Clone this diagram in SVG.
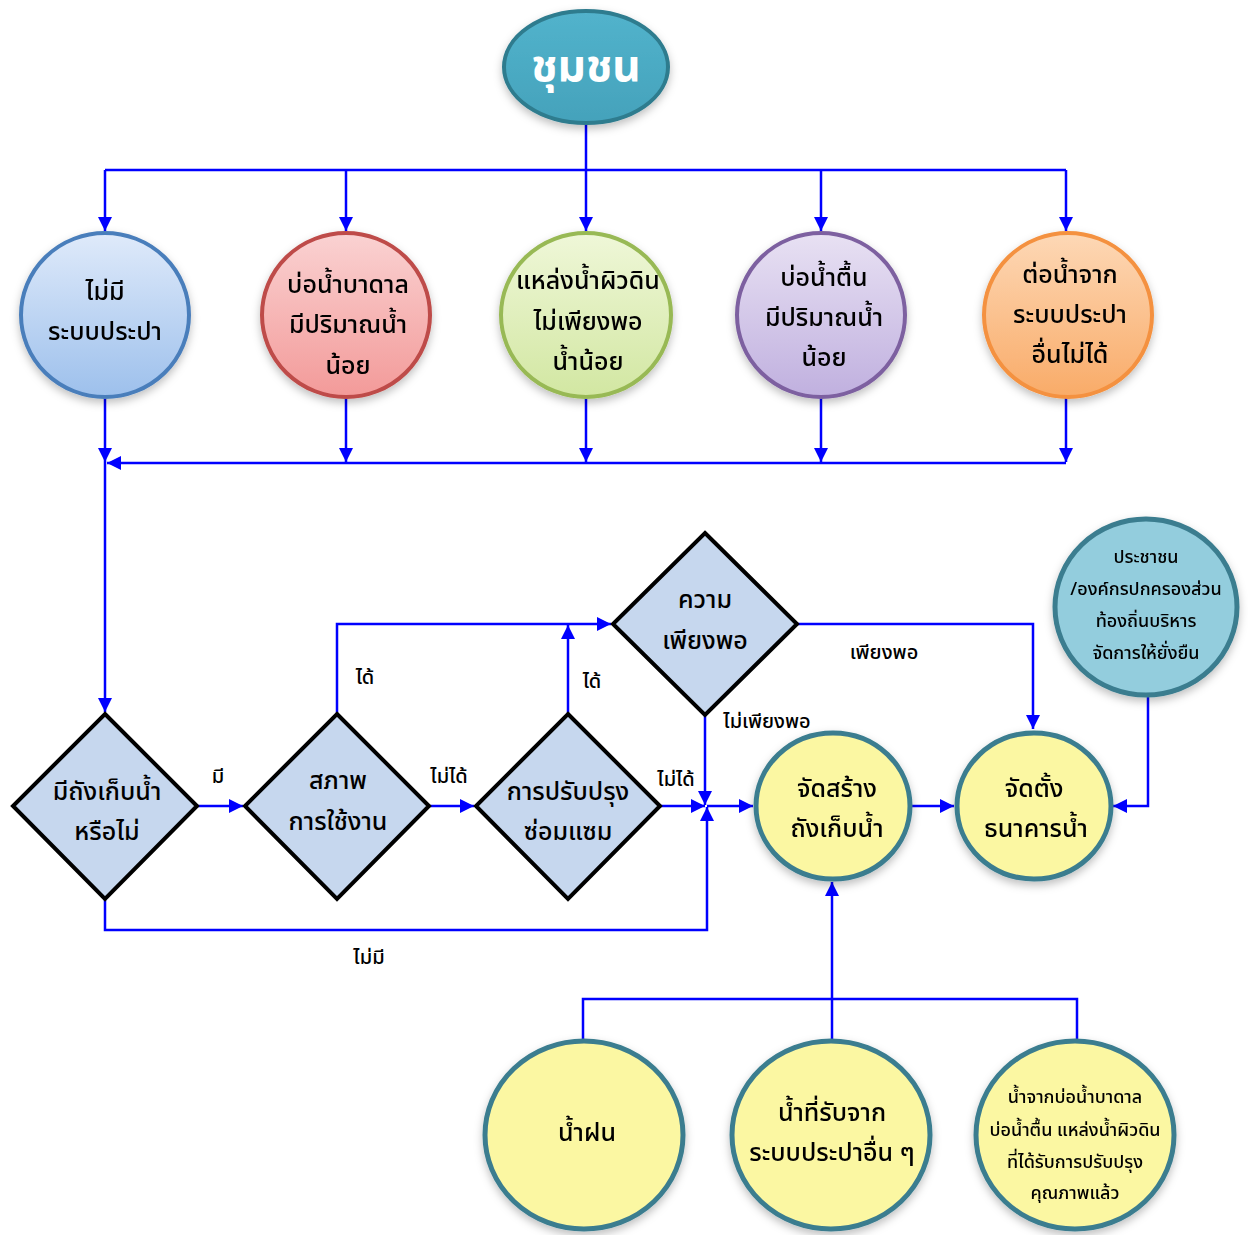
<svg xmlns="http://www.w3.org/2000/svg" width="1248" height="1235" viewBox="0 0 1248 1235">
  <defs>
    <style>
      .t { font-family: "Noto Sans Thai", "Noto Sans", "DejaVu Sans", sans-serif; fill: #000; text-anchor: middle; dominant-baseline: central; font-weight: 500; }
      .big { font-size: 25px; }
      .small { font-size: 18px; }
      .lbl { font-size: 20px; }
      .head { font-size: 44px; fill: #fff; font-weight: bold; }
      .conn { fill: none; stroke: #0000ff; stroke-width: 2.5; }
      .arr { marker-end: url(#ah); }
      .dia { fill: #c6d7ee; stroke: #000; stroke-width: 4; stroke-linejoin: miter; }
      .yel { fill: #fbf7a2; stroke: #3b7d8f; stroke-width: 5; }
    </style>
    <marker id="ah" viewBox="0 0 14 14" markerWidth="14" markerHeight="14" refX="14" refY="7" orient="auto" markerUnits="userSpaceOnUse">
      <path d="M0,0 L14,7 L0,14 Z" fill="#0000ff"/>
    </marker>
    <filter id="sh" x="-20%" y="-20%" width="140%" height="150%">
      <feDropShadow dx="0" dy="4" stdDeviation="4" flood-color="#000" flood-opacity="0.25"/>
    </filter>
    <linearGradient id="gTeal" x1="0" y1="0" x2="0" y2="1">
      <stop offset="0" stop-color="#52b3cc"/>
      <stop offset="1" stop-color="#44a2bb"/>
    </linearGradient>
    <linearGradient id="gBlue" x1="0" y1="0" x2="0" y2="1">
      <stop offset="0" stop-color="#dfeafa"/>
      <stop offset="1" stop-color="#9dc0ec"/>
    </linearGradient>
    <linearGradient id="gRed" x1="0" y1="0" x2="0" y2="1">
      <stop offset="0" stop-color="#fad2d2"/>
      <stop offset="1" stop-color="#f39a99"/>
    </linearGradient>
    <linearGradient id="gGreen" x1="0" y1="0" x2="0" y2="1">
      <stop offset="0" stop-color="#eff7d8"/>
      <stop offset="1" stop-color="#d2e7a2"/>
    </linearGradient>
    <linearGradient id="gPurple" x1="0" y1="0" x2="0" y2="1">
      <stop offset="0" stop-color="#e8e1f3"/>
      <stop offset="1" stop-color="#c0b0df"/>
    </linearGradient>
    <linearGradient id="gOrange" x1="0" y1="0" x2="0" y2="1">
      <stop offset="0" stop-color="#fdd8b6"/>
      <stop offset="1" stop-color="#f9ab68"/>
    </linearGradient>
  </defs>

  <rect width="1248" height="1235" fill="#fff"/>

  <!-- connectors -->
  <g id="connectors">
    <path class="conn" d="M586,124 V170"/>
    <path class="conn" d="M105,170 H1066"/>
    <path class="conn arr" d="M105,170 V231"/>
    <path class="conn arr" d="M346,170 V231"/>
    <path class="conn arr" d="M586,170 V231"/>
    <path class="conn arr" d="M821,170 V231"/>
    <path class="conn arr" d="M1066,170 V231"/>

    <path class="conn arr" d="M346,398 V462"/>
    <path class="conn arr" d="M586,398 V462"/>
    <path class="conn arr" d="M821,398 V462"/>
    <path class="conn arr" d="M1066,398 V462"/>
    <path class="conn arr" d="M1066,463 H107"/>
    <path class="conn arr" d="M105,398 V462"/>
    <path class="conn arr" d="M105,462 V712"/>

    <path class="conn arr" d="M198,806 H243"/>
    <path class="conn arr" d="M430,806 H474"/>
    <path class="conn arr" d="M661,806 H705"/>
    <path class="conn arr" d="M707,806 H753"/>
    <path class="conn arr" d="M705,716 V805"/>
    <path class="conn arr" d="M105,900 V930 H707 V807"/>
    <path class="conn arr" d="M337,713 V624 H611"/>
    <path class="conn arr" d="M568,713 V625"/>
    <path class="conn arr" d="M798,624 H1033 V729"/>
    <path class="conn arr" d="M911,806 H954"/>
    <path class="conn arr" d="M1148,697 V806 H1113"/>

    <path class="conn" d="M583,1040 V999 H1077 V1040"/>
    <path class="conn arr" d="M832,1040 V882"/>
  </g>

  <!-- connector labels -->
  <g id="labels">
    <text class="t lbl" x="218" y="777">มี</text>
    <text class="t lbl" x="449" y="777">ไม่ได้</text>
    <text class="t lbl" x="676" y="780">ไม่ได้</text>
    <text class="t lbl" x="365" y="678">ได้</text>
    <text class="t lbl" x="592" y="682">ได้</text>
    <text class="t lbl" x="767" y="722">ไม่เพียงพอ</text>
    <text class="t lbl" x="884" y="653">เพียงพอ</text>
    <text class="t lbl" x="369" y="958">ไม่มี</text>
  </g>

  <!-- community -->
  <g id="community">
    <ellipse cx="586" cy="67" rx="82" ry="56" fill="url(#gTeal)" stroke="#2f7b8e" stroke-width="4" filter="url(#sh)"/>
    <text class="t head" x="586" y="67">ชุมชน</text>
  </g>

  <!-- problem sources -->
  <g id="no-supply" filter="url(#sh)">
    <ellipse cx="105" cy="315" rx="84" ry="82" fill="url(#gBlue)" stroke="#4a7ebb" stroke-width="4"/>
    <text class="t big" x="105" y="292">ไม่มี</text>
    <text class="t big" x="105" y="332">ระบบประปา</text>
  </g>
  <g id="groundwater" filter="url(#sh)">
    <ellipse cx="346" cy="315" rx="84" ry="82" fill="url(#gRed)" stroke="#be4b48" stroke-width="4"/>
    <text class="t big" x="348" y="285">บ่อน้ำบาดาล</text>
    <text class="t big" x="348" y="325">มีปริมาณน้ำ</text>
    <text class="t big" x="348" y="366">น้อย</text>
  </g>
  <g id="surface-water" filter="url(#sh)">
    <ellipse cx="586" cy="315" rx="85" ry="82" fill="url(#gGreen)" stroke="#98b954" stroke-width="4"/>
    <text class="t big" x="588" y="281">แหล่งน้ำผิวดิน</text>
    <text class="t big" x="588" y="322">ไม่เพียงพอ</text>
    <text class="t big" x="588" y="362">น้ำน้อย</text>
  </g>
  <g id="shallow-well" filter="url(#sh)">
    <ellipse cx="821" cy="315" rx="84" ry="82" fill="url(#gPurple)" stroke="#7d60a0" stroke-width="4"/>
    <text class="t big" x="824" y="278">บ่อน้ำตื้น</text>
    <text class="t big" x="824" y="318">มีปริมาณน้ำ</text>
    <text class="t big" x="824" y="358">น้อย</text>
  </g>
  <g id="no-connection" filter="url(#sh)">
    <ellipse cx="1068" cy="315" rx="84" ry="82" fill="url(#gOrange)" stroke="#f4913f" stroke-width="4"/>
    <text class="t big" x="1070" y="275">ต่อน้ำจาก</text>
    <text class="t big" x="1070" y="315">ระบบประปา</text>
    <text class="t big" x="1070" y="355">อื่นไม่ได้</text>
  </g>

  <!-- decisions -->
  <g id="has-tank">
    <polygon class="dia" points="105,714 197,806 105,899 13,806"/>
    <text class="t big" x="107" y="792">มีถังเก็บน้ำ</text>
    <text class="t big" x="107" y="832">หรือไม่</text>
  </g>
  <g id="condition">
    <polygon class="dia" points="337,714 429,806 337,899 245,806"/>
    <text class="t big" x="338" y="781">สภาพ</text>
    <text class="t big" x="338" y="822">การใช้งาน</text>
  </g>
  <g id="repair">
    <polygon class="dia" points="568,714 660,806 568,899 476,806"/>
    <text class="t big" x="568" y="792">การปรับปรุง</text>
    <text class="t big" x="568" y="832">ซ่อมแซม</text>
  </g>
  <g id="sufficiency">
    <polygon class="dia" points="705,533 797,624 705,715 613,624"/>
    <text class="t big" x="705" y="600">ความ</text>
    <text class="t big" x="705" y="641">เพียงพอ</text>
  </g>

  <!-- actions -->
  <g id="build-tank" filter="url(#sh)">
    <ellipse class="yel" cx="833" cy="806" rx="77" ry="73"/>
    <text class="t big" x="837" y="789">จัดสร้าง</text>
    <text class="t big" x="837" y="829">ถังเก็บน้ำ</text>
  </g>
  <g id="water-bank" filter="url(#sh)">
    <ellipse class="yel" cx="1034" cy="806" rx="77" ry="73"/>
    <text class="t big" x="1034" y="789">จัดตั้ง</text>
    <text class="t big" x="1036" y="829">ธนาคารน้ำ</text>
  </g>
  <g id="management" filter="url(#sh)">
    <ellipse cx="1146" cy="607" rx="91" ry="88" fill="#93cddd" stroke="#3b7d8f" stroke-width="5"/>
    <text class="t small" x="1146" y="557">ประชาชน</text>
    <text class="t small" x="1146" y="589">/องค์กรปกครองส่วน</text>
    <text class="t small" x="1146" y="621">ท้องถิ่นบริหาร</text>
    <text class="t small" x="1146" y="653">จัดการให้ยั่งยืน</text>
  </g>

  <!-- water sources -->
  <g id="rain" filter="url(#sh)">
    <ellipse class="yel" cx="584" cy="1135" rx="99" ry="94"/>
    <text class="t big" x="587" y="1133">น้ำฝน</text>
  </g>
  <g id="other-supply" filter="url(#sh)">
    <ellipse class="yel" cx="831" cy="1135" rx="99" ry="94"/>
    <text class="t big" x="832" y="1113">น้ำที่รับจาก</text>
    <text class="t big" x="832" y="1153">ระบบประปาอื่น ๆ</text>
  </g>
  <g id="treated" filter="url(#sh)">
    <ellipse class="yel" cx="1075" cy="1135" rx="99" ry="94"/>
    <text class="t small" x="1075" y="1097">น้ำจากบ่อน้ำบาดาล</text>
    <text class="t small" x="1075" y="1130">บ่อน้ำตื้น แหล่งน้ำผิวดิน</text>
    <text class="t small" x="1075" y="1162">ที่ได้รับการปรับปรุง</text>
    <text class="t small" x="1075" y="1193">คุณภาพแล้ว</text>
  </g>
</svg>
